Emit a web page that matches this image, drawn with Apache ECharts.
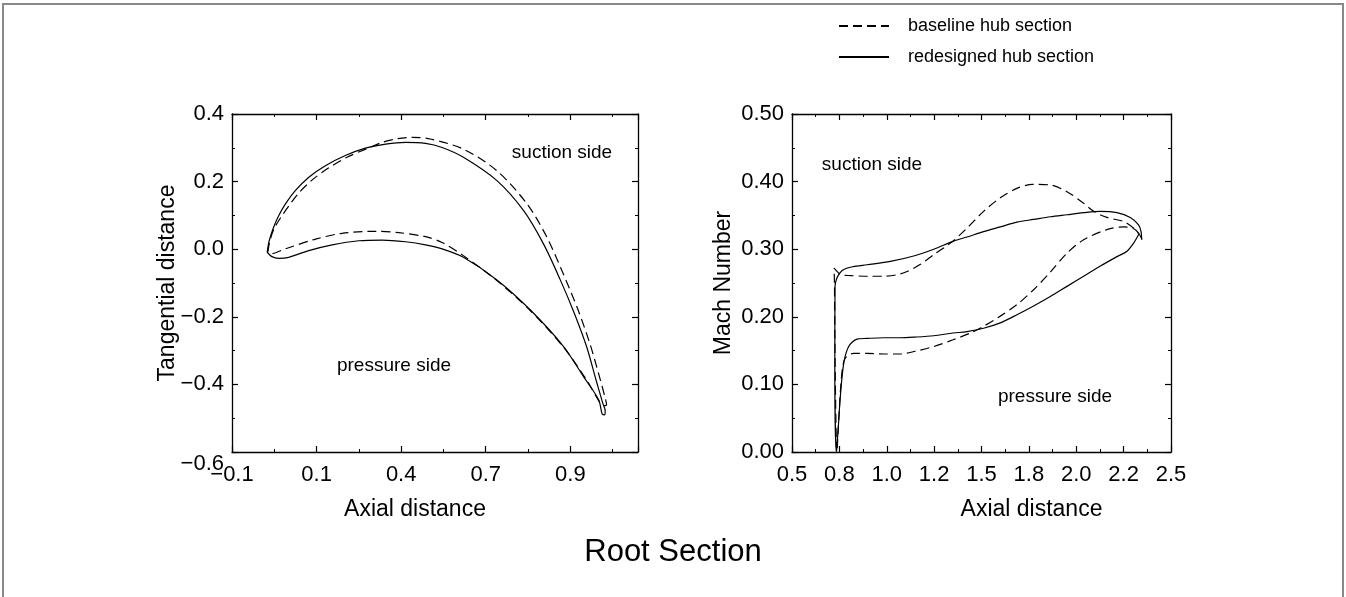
<!DOCTYPE html>
<html>
<head>
<meta charset="utf-8">
<title>Root Section</title>
<script src="https://cdn.jsdelivr.net/npm/echarts@6/dist/echarts.min.js"></script>
<style>
  html, body { margin: 0; padding: 0; background: #fff; }
  #chart { width: 1346px; height: 597px; }
</style>
</head>
<body>
<div id="chart"></div>
<script>
// ---- tick labels ----
var leftXLabels = ['\u22120.1', '0.1', '0.4', '0.7', '0.9'];
var leftYLabels = ['\u22120.6', '\u22120.4', '\u22120.2', '0.0', '0.2', '0.4'];
var rightXLabels = ['0.5', '0.8', '1.0', '1.2', '1.5', '1.8', '2.0', '2.2', '2.5'];
var rightYLabels = ['0.00', '0.10', '0.20', '0.30', '0.40', '0.50'];

// ---- left: blade section (axial vs tangential), LE -> suction -> TE -> pressure -> LE ----
var leftBaseX = [0.006, 0.012, 0.025, 0.045, 0.068, 0.097, 0.137, 0.185, 0.240, 0.300, 0.344, 0.390, 0.433, 0.486, 0.584, 0.683, 0.772, 0.831, 0.880, 0.923, 0.958, 0.986, 1.003, 1.007, 0.999, 0.985, 0.950, 0.880, 0.782, 0.683, 0.584, 0.521, 0.472, 0.393, 0.324, 0.225, 0.147, 0.058, 0.013, 0.006];
var leftBaseY = [-0.008, 0.025, 0.062, 0.095, 0.128, 0.166, 0.205, 0.240, 0.272, 0.298, 0.316, 0.327, 0.331, 0.326, 0.296, 0.232, 0.134, 0.035, -0.075, -0.180, -0.280, -0.377, -0.440, -0.460, -0.463, -0.450, -0.390, -0.290, -0.182, -0.093, -0.019, 0.020, 0.037, 0.049, 0.053, 0.047, 0.030, 0.001, -0.014, -0.008];
var leftNewX = [0.004, 0.010, 0.023, 0.038, 0.058, 0.087, 0.127, 0.176, 0.235, 0.294, 0.354, 0.413, 0.472, 0.521, 0.584, 0.683, 0.762, 0.821, 0.870, 0.912, 0.948, 0.976, 0.996, 1.003, 1.002, 0.995, 0.984, 0.939, 0.880, 0.782, 0.683, 0.584, 0.521, 0.472, 0.413, 0.344, 0.275, 0.196, 0.127, 0.068, 0.038, 0.018, 0.004];
var leftNewY = [-0.009, 0.025, 0.065, 0.099, 0.134, 0.173, 0.213, 0.247, 0.277, 0.299, 0.311, 0.316, 0.313, 0.301, 0.272, 0.203, 0.114, 0.015, -0.090, -0.190, -0.288, -0.387, -0.456, -0.478, -0.490, -0.489, -0.446, -0.377, -0.288, -0.180, -0.091, -0.024, 0.001, 0.013, 0.022, 0.027, 0.025, 0.013, -0.004, -0.024, -0.027, -0.022, -0.009];

// ---- right: Mach number, suction TE -> LE -> stagnation -> pressure -> TE ----
var rightBaseX = [2.347, 2.335, 2.303, 2.250, 2.162, 2.092, 2.039, 1.951, 1.863, 1.770, 1.687, 1.599, 1.511, 1.423, 1.336, 1.248, 1.180, 1.107, 1.050, 0.984, 0.900, 0.808, 0.760, 0.745, 0.722, 0.724, 0.728, 0.737, 0.747, 0.758, 0.768, 0.781, 0.825, 0.900, 0.984, 1.072, 1.150, 1.248, 1.350, 1.450, 1.511, 1.599, 1.687, 1.775, 1.863, 1.951, 2.039, 2.162, 2.250, 2.300, 2.335, 2.347];
var rightBaseY = [0.314, 0.321, 0.331, 0.341, 0.347, 0.356, 0.368, 0.385, 0.395, 0.396, 0.390, 0.376, 0.356, 0.331, 0.309, 0.292, 0.278, 0.267, 0.262, 0.260, 0.260, 0.261, 0.262, 0.265, 0.272, 0.250, 0.120, 0.000, 0.050, 0.100, 0.127, 0.139, 0.146, 0.146, 0.145, 0.145, 0.149, 0.156, 0.166, 0.177, 0.186, 0.201, 0.218, 0.240, 0.266, 0.294, 0.314, 0.329, 0.333, 0.331, 0.322, 0.314];
var rightNewX = [2.345, 2.342, 2.329, 2.285, 2.215, 2.127, 2.039, 1.951, 1.863, 1.775, 1.687, 1.599, 1.511, 1.423, 1.353, 1.248, 1.142, 1.019, 0.896, 0.820, 0.773, 0.750, 0.735, 0.727, 0.726, 0.734, 0.745, 0.755, 0.773, 0.799, 0.843, 0.896, 0.984, 1.072, 1.150, 1.248, 1.350, 1.423, 1.511, 1.599, 1.687, 1.775, 1.863, 1.951, 2.039, 2.127, 2.215, 2.268, 2.303, 2.330];
var rightNewY = [0.316, 0.326, 0.336, 0.347, 0.354, 0.356, 0.354, 0.351, 0.348, 0.344, 0.340, 0.333, 0.326, 0.318, 0.312, 0.300, 0.290, 0.282, 0.277, 0.274, 0.270, 0.264, 0.256, 0.245, 0.120, 0.000, 0.040, 0.082, 0.131, 0.156, 0.167, 0.168, 0.169, 0.169, 0.170, 0.172, 0.176, 0.178, 0.183, 0.191, 0.203, 0.216, 0.230, 0.245, 0.260, 0.275, 0.289, 0.297, 0.309, 0.322];

var BASE = 'baseline hub section';
var NEW = 'redesigned hub section';
var FONT = "'Liberation Sans', Arial, Helvetica, sans-serif";

function zip(xs, ys) {
  return xs.map(function (x, i) { return [x, ys[i]]; });
}

// label lookup by tick index, blank for the off-grid max tick
function tickFmt(min, step, labels, lowFirst) {
  return function (v) {
    var i = Math.round((v - min) / step);
    if (Math.abs(min + i * step - v) > 1e-6) return '';
    var s = labels[i] || '';
    // the bottom-left label of the blade plot sits a bit under its tick
    if (lowFirst && i === 0) return '{lo|' + s + '}';
    return s;
  };
}

function boxAxis(grid, pos, min, max, interval, labels, extra, lowFirst) {
  var ax = {
    type: 'value',
    gridIndex: grid,
    position: pos,
    min: min,
    max: max,
    interval: interval,
    axisLine: { show: true, onZero: false, lineStyle: { color: '#000', width: 1.3 } },
    axisTick: { show: true, inside: true, length: 6, lineStyle: { color: '#000', width: 1.2 } },
    minorTick: { show: true, splitNumber: 2, length: 3, lineStyle: { color: '#000', width: 1 } },
    splitLine: { show: false },
    minorSplitLine: { show: false },
    axisLabel: { show: false }
  };
  if (labels) {
    ax.axisLabel = {
      show: true,
      showMinLabel: true,
      showMaxLabel: true,
      margin: (pos === 'bottom') ? 12 : 8,
      color: '#000',
      fontSize: 22,
      fontFamily: FONT,
      formatter: tickFmt(min, interval, labels, lowFirst),
      rich: {
        lo: { fontSize: 22, fontFamily: FONT, color: '#000', padding: [24, 0, 0, 0] }
      }
    };
  }
  return Object.assign(ax, extra || {});
}

var lineStyleBase = { color: '#000', width: 1.2, type: [9, 5] };
var lineStyleNew = { color: '#000', width: 1.2, type: 'solid' };

function curve(name, data, xi, yi, ls) {
  return {
    name: name,
    type: 'line',
    xAxisIndex: xi,
    yAxisIndex: yi,
    data: data,
    showSymbol: false,
    symbol: 'none',
    smooth: 0.3,
    lineStyle: ls,
    itemStyle: { color: '#000' },
    animation: false
  };
}

var nameStyle = { fontSize: 23, color: '#000', fontFamily: FONT };
var noteStyle = { font: '19px ' + FONT, fill: '#000', textAlign: 'center', textVerticalAlign: 'middle', align: 'center', verticalAlign: 'middle' };

function note(text, x, y) {
  return { type: 'text', x: x, y: y, silent: true, style: Object.assign({ text: text }, noteStyle) };
}

var chart = echarts.init(document.getElementById('chart'));
var option = {
  backgroundColor: '#fff',
  animation: false,
  title: {
    text: 'Root Section',
    left: 'center',
    top: 532,
    textStyle: { fontSize: 31, fontWeight: 'normal', color: '#000', fontFamily: FONT }
  },
  legend: {
    orient: 'vertical',
    left: 833,
    top: 12,
    itemWidth: 50,
    itemHeight: 14,
    itemGap: 13,
    selectedMode: false,
    data: [BASE, NEW],
    itemStyle: { opacity: 0, borderWidth: 0 },
    textStyle: { fontSize: 18, color: '#000', fontFamily: FONT, padding: [0, 0, 0, 14] }
  },
  grid: [
    { left: 232, top: 114, width: 406, height: 338, containLabel: false, outerBoundsMode: 'none' },
    { left: 792, top: 114, width: 379, height: 338, containLabel: false, outerBoundsMode: 'none' }
  ],
  xAxis: [
    boxAxis(0, 'bottom', -0.1, 1.1, 0.25, leftXLabels, {
      name: 'Axial distance', nameLocation: 'middle', nameGap: 46, nameMoveOverlap: false,
      nameTextStyle: Object.assign({ padding: [0, 40, 0, 0] }, nameStyle)
    }),
    boxAxis(0, 'top', -0.1, 1.1, 0.25, null),
    boxAxis(1, 'bottom', 0.5, 2.5, 0.25, rightXLabels, {
      name: 'Axial distance', nameLocation: 'middle', nameGap: 46, nameMoveOverlap: false,
      nameTextStyle: Object.assign({ padding: [0, 0, 0, 100] }, nameStyle)
    }),
    boxAxis(1, 'top', 0.5, 2.5, 0.25, null)
  ],
  yAxis: [
    boxAxis(0, 'left', -0.6, 0.4, 0.2, leftYLabels, {
      name: 'Tangential distance', nameLocation: 'middle', nameGap: 53, nameMoveOverlap: false,
      nameTextStyle: nameStyle
    }, true),
    boxAxis(0, 'right', -0.6, 0.4, 0.2, null),
    boxAxis(1, 'left', 0, 0.5, 0.1, rightYLabels, {
      name: 'Mach Number', nameLocation: 'middle', nameGap: 57, nameMoveOverlap: false,
      nameTextStyle: nameStyle
    }),
    boxAxis(1, 'right', 0, 0.5, 0.1, null)
  ],
  series: [
    curve(BASE, zip(leftBaseX, leftBaseY), 0, 0, lineStyleBase),
    curve(NEW, zip(leftNewX, leftNewY), 0, 0, lineStyleNew),
    curve(BASE, zip(rightBaseX, rightBaseY), 2, 2, lineStyleBase),
    curve(NEW, zip(rightNewX, rightNewY), 2, 2, lineStyleNew)
  ],
  graphic: [
    {
      type: 'rect', silent: true, z: 100,
      shape: { x: 3, y: 4, width: 1340, height: 600 },
      style: { fill: 'none', stroke: '#888', lineWidth: 2 }
    },
    note('suction side', 562, 153),
    note('pressure side', 394, 366),
    note('suction side', 872, 165),
    note('pressure side', 1055, 397)
  ]
};
chart.setOption(option);
</script>
</body>
</html>
